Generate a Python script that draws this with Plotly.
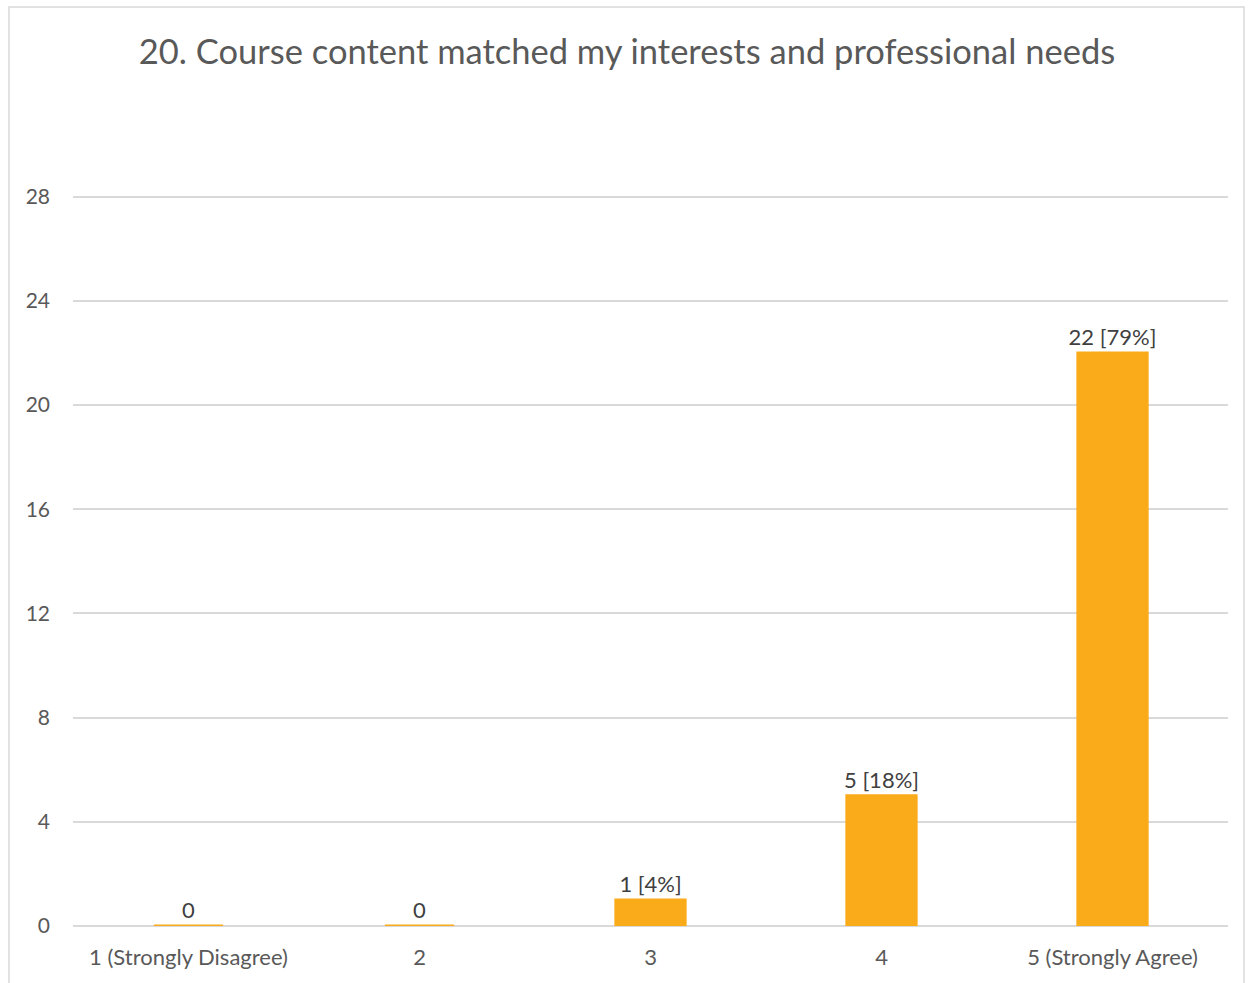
import plotly.graph_objects as go

categories = ["1 (Strongly Disagree)", "2", "3", "4", "5 (Strongly Agree)"]
counts = [0, 0, 1, 5, 22]
labels = ["0", "0", "1 [4%]", "5 [18%]", "22 [79%]"]
y_ticks = [0, 4, 8, 12, 16, 20, 24, 28]

W, H = 1254, 983
YMAX = 28.1
L, R, B = 73, 26, 57
px_per_unit = (926 - 197) / 28
T = int(round(197 - (YMAX - 28) * px_per_unit))
pw, ph = W - L - R, H - T - B

fig = go.Figure()
fig.add_trace(go.Bar(
    x=categories, y=counts, text=labels, textposition="outside",
    textfont=dict(family="Lato", size=22, color="#404040"),
    constraintext="none",
    marker=dict(color="#FAAB1A", line=dict(color="#FAAB1A", width=3)),
    width=0.30, cliponaxis=False, hoverinfo="skip",
))

fig.update_layout(
    width=W, height=H,
    margin=dict(l=L, r=R, t=T, b=B),
    paper_bgcolor="white", plot_bgcolor="white",
    showlegend=False,
    title=dict(text="20. Course content matched my interests and professional needs",
               x=0.5, xanchor="center", y=1 - 52 / H, yanchor="middle",
               font=dict(family="Lato", size=34.5, color="#595959")),
    xaxis=dict(showgrid=False, showline=False, zeroline=False, ticks="",
               tickfont=dict(family="Lato", size=22, color="#595959"),
               ticklabelstandoff=16),
    yaxis=dict(range=[0, YMAX], tickvals=y_ticks, showgrid=True, gridcolor="#D9D9D9",
               gridwidth=1.5, zeroline=True, zerolinecolor="#D9D9D9", zerolinewidth=2,
               showline=False, ticks="",
               tickfont=dict(family="Lato", size=21, color="#595959"),
               ticklabelstandoff=22),
    font=dict(family="Lato"),
    shapes=[dict(type="rect", xref="paper", yref="paper",
                 x0=(9 - L) / pw, x1=(1244 - L) / pw,
                 y0=(H - B - 990) / ph, y1=(H - B - 7) / ph,
                 line=dict(color="#D9D9D9", width=1.5), fillcolor="rgba(0,0,0,0)", layer="below")],
)
fig.write_html("out.html", config={"displayModeBar": False},
               post_script="document.body.style.margin='0px';document.body.style.overflow='hidden';")
